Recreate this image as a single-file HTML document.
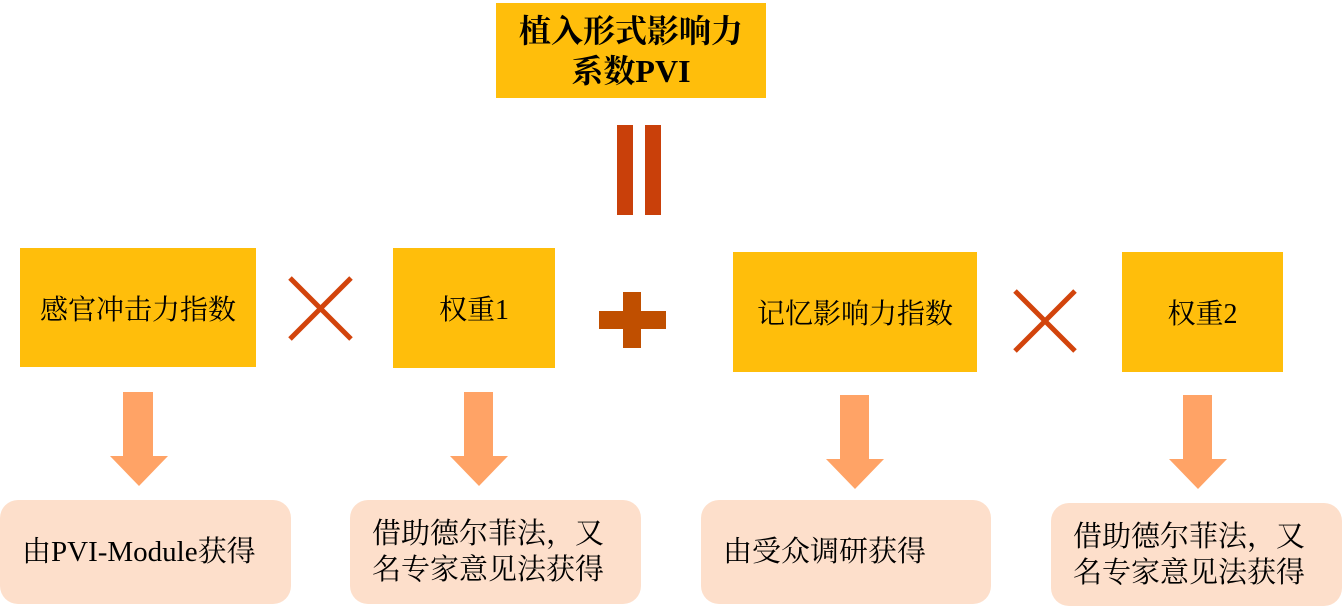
<!DOCTYPE html>
<html><head><meta charset="utf-8"><style>
body{margin:0;width:1343px;height:608px;background:#fff;position:relative;overflow:hidden;font-family:"Liberation Serif","Noto Serif CJK SC",serif;}
.b{position:absolute;background:#FFBE0B;display:flex;align-items:center;justify-content:center;text-align:center;font-size:28px;color:#000;}
.r{position:absolute;background:#FDDFCB;border-radius:18px;display:flex;align-items:center;font-size:29px;line-height:36px;padding-left:22px;box-sizing:border-box;}
.bar{position:absolute;background:#C9400A;}
.p{position:absolute;background:#C04F00;}
</style></head><body>
<div class="b" style="left:496px;top:3px;width:270px;height:95px;font-weight:bold;font-size:32px;line-height:40px;">植入形式影响力<br>系数PVI</div>
<div class="bar" style="left:617px;top:125px;width:16px;height:90px"></div>
<div class="bar" style="left:645px;top:125px;width:16px;height:90px"></div>
<div class="b" style="left:20px;top:248px;width:236px;height:119px">感官冲击力指数</div>
<div class="b" style="left:393px;top:248px;width:162px;height:120px">权重1</div>
<div class="b" style="left:733px;top:252px;width:244px;height:120px">记忆影响力指数</div>
<div class="b" style="left:1122px;top:252px;width:161px;height:120px">权重2</div>
<svg style="position:absolute;left:0;top:0" width="1343" height="608">
<g stroke="#D2440C" stroke-width="5"><line x1="290" y1="278" x2="351" y2="339"/><line x1="351" y1="278" x2="290" y2="339"/>
<line x1="1015" y1="291" x2="1075" y2="351"/><line x1="1075" y1="291" x2="1015" y2="351"/></g>
<g fill="#FFA366">
<path d="M123 392h30v64h15l-29 30-29-30h13z"/>
<path d="M464 392h29v64h15l-29 30-29-30h14z"/>
<path d="M840 395h29v64h15l-29 30-29-30h14z"/>
<path d="M1183 395h29v64h15l-29 30-29-30h14z"/>
</g></svg>
<div class="p" style="left:599px;top:311px;width:67px;height:18px"></div>
<div class="p" style="left:623px;top:292px;width:18px;height:56px"></div>
<div class="r" style="left:0;top:500px;width:291px;height:104px">由PVI-Module获得</div>
<div class="r" style="left:350px;top:500px;width:291px;height:104px">借助德尔菲法，又<br>名专家意见法获得</div>
<div class="r" style="left:701px;top:500px;width:290px;height:104px">由受众调研获得</div>
<div class="r" style="left:1051px;top:503px;width:291px;height:103px">借助德尔菲法，又<br>名专家意见法获得</div>
</body></html>
